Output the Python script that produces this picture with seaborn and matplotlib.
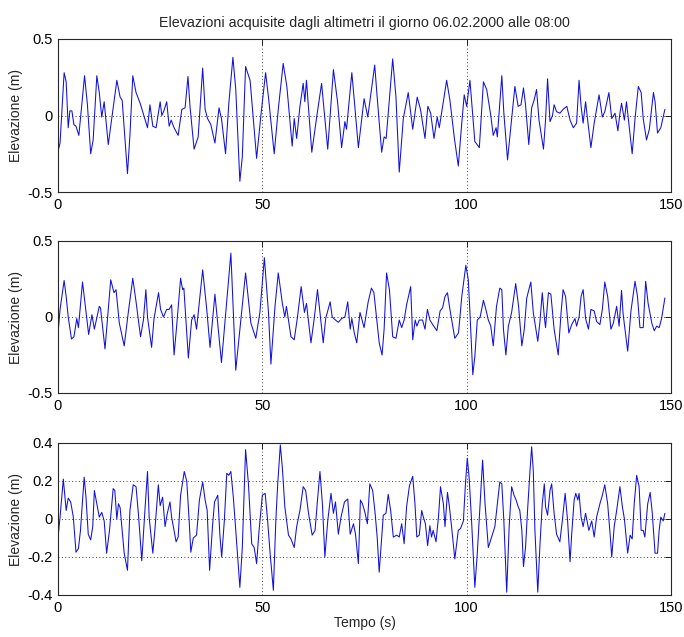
import matplotlib
matplotlib.use("Agg")
import matplotlib.pyplot as plt
import seaborn as sns
import pandas as pd

# ---------------- data (time [s], elevation [m]) ----------------
serie_1 = [
    (0.0, -0.235), (0.5, -0.18), (1.5, 0.28), (2.0, 0.22), (2.5, -0.08), (2.9, 0.03), (3.4, 0.03),
    (3.9, -0.06), (4.4, -0.07), (5.1, -0.13), (6.5, 0.26), (7.2, 0.07), (8.0, -0.25), (8.6, -0.16),
    (9.5, 0.26), (10.1, 0.15), (10.7, -0.01), (11.3, 0.09), (12.3, -0.19), (13.1, -0.03), (14.4, 0.23),
    (15.2, 0.12), (15.7, 0.10), (17.0, -0.38), (17.6, -0.13), (18.3, 0.26), (19.1, 0.15), (20.1, 0.08),
    (21.9, -0.08), (22.5, 0.07), (23.2, -0.07), (24.0, -0.08), (25.0, 0.09), (25.4, 0.0), (25.9, 0.03),
    (26.6, 0.09), (27.2, -0.07), (27.7, -0.03), (28.4, -0.08), (29.4, -0.13), (30.3, 0.04), (31.1, 0.05),
    (31.8, 0.255), (32.3, 0.06), (33.3, -0.22), (34.3, -0.14), (35.4, 0.31),
    (36.0, 0.04), (36.6, -0.02), (37.4, -0.06), (38.4, -0.18), (39.4, 0.05), (40.0, -0.02), (41.0, -0.25),
    (41.8, 0.08), (42.8, 0.38), (43.5, 0.17), (44.5, -0.43), (45.1, -0.27), (45.9, 0.32), (47.0, 0.23),
    (48.6, -0.28), (49.7, 0.015), (50.8, 0.28), (51.5, 0.12), (52.9, -0.25), (53.9, 0.04), (55.1, 0.34),
    (56.0, 0.19), (57.3, -0.20), (57.8, -0.02), (58.4, -0.15), (59.2, 0.06), (60.0, 0.21), (60.4, 0.09),
    (60.8, 0.23), (62.1, -0.24), (63.3, -0.01), (64.5, 0.21), (66.0, -0.22), (67.4, 0.30), (68.4, 0.09),
    (69.4, -0.21), (70.2, -0.04), (70.6, -0.09), (71.9, 0.28), (72.5, 0.10), (73.5, -0.21),
    (74.9, 0.11), (75.8, -0.01), (77.5, 0.33), (78.1, 0.12), (79.2, -0.24), (79.8, -0.14), (80.3, -0.15),
    (81.9, 0.37), (82.7, 0.12), (83.5, -0.37), (84.5, -0.02), (85.7, 0.15), (86.8, -0.09), (87.9, 0.12),
    (88.7, 0.04), (89.8, -0.15), (90.5, 0.06), (91.2, 0.015), (92.0, -0.15), (92.8, -0.01), (93.3, -0.08),
    (95.1, 0.23), (95.9, 0.10), (97.0, -0.15), (97.95, -0.33), (98.8, -0.05), (99.4, 0.135), (100.0, 0.06),
    (100.8, 0.23), (102.0, -0.17), (103.1, -0.21), (104.1, 0.22), (104.9, 0.17), (105.9, 0.0),
    (106.5, -0.13), (107.2, -0.08), (107.5, -0.14), (108.6, 0.26), (109.1, 0.015), (110.0, -0.29),
    (111.8, 0.19), (112.6, 0.06), (113.3, 0.07), (113.9, 0.18), (114.4, 0.07), (115.2, -0.19),
    (115.9, 0.05), (116.5, 0.10), (117.1, 0.17), (117.7, -0.03), (118.8, -0.22), (119.3, -0.03),
    (119.8, 0.24), (120.4, -0.04), (121.0, 0.0), (121.4, 0.07), (122.0, 0.025), (122.8, 0.015),
    (123.6, 0.04), (124.5, 0.06), (125.3, -0.03), (126.1, -0.08), (126.9, -0.05), (127.5, 0.23),
    (128.0, 0.06), (128.5, -0.05), (129.1, 0.09), (129.6, -0.03), (130.4, -0.21), (131.2, -0.05),
    (132.4, 0.135), (133.2, -0.01), (133.8, 0.025), (134.8, 0.15), (135.5, -0.02), (136.3, 0.015),
    (137.0, -0.10), (137.5, 0.015), (137.9, 0.08), (138.6, -0.03), (139.1, 0.09), (140.5, -0.25),
    (141.2, -0.02), (142.0, 0.19), (142.7, 0.15), (143.2, -0.02), (144.0, -0.16), (144.7, -0.09),
    (145.7, 0.15), (146.1, 0.09), (146.7, -0.115), (147.5, -0.08), (148.5, 0.04),
]

serie_2 = [
    (0.0, -0.115), (0.5, 0.05), (1.5, 0.24), (2.0, 0.135), (2.5, 0.0), (3.3, -0.145), (3.9, -0.13),
    (4.6, -0.01), (5.0, -0.07), (6.0, 0.23), (6.7, 0.07), (7.5, -0.115), (8.3, 0.015), (8.9, -0.08),
    (10.1, 0.07), (10.4, 0.06), (11.5, -0.21), (12.9, 0.245), (13.7, 0.16), (14.2, 0.18), (15.0, -0.04),
    (16.2, -0.19), (17.2, 0.03), (18.3, 0.255), (19.1, 0.10), (20.2, -0.13), (20.9, -0.02), (21.5, 0.18),
    (21.9, 0.0), (22.9, -0.20), (23.5, -0.01), (24.6, 0.16), (25.1, 0.05), (25.8, 0.0), (26.6, 0.05),
    (27.2, 0.05), (27.8, 0.08), (28.4, -0.25), (29.0, -0.07), (30.0, 0.255), (30.5, 0.18), (30.8, 0.19),
    (31.9, -0.27), (32.7, -0.02), (33.3, 0.015), (33.9, -0.08), (35.4, 0.31), (36.4, 0.05),
    (37.2, -0.20), (38.4, 0.15), (40.0, -0.30), (42.3, 0.42), (43.5, -0.35), (45.9, 0.29), (47.2, -0.04),
    (48.4, -0.14), (49.4, 0.03), (50.5, 0.39), (51.5, 0.03), (52.1, -0.31), (53.1, 0.07), (53.9, 0.29),
    (54.9, 0.09), (55.5, 0.0), (55.9, 0.07), (57.0, -0.13), (57.8, -0.15), (58.6, 0.0), (59.5, 0.20),
    (60.3, 0.03), (60.8, 0.09), (61.9, -0.17), (62.7, -0.01), (63.5, 0.18), (64.1, 0.03), (64.9, -0.17),
    (65.5, -0.01), (66.6, 0.10), (67.1, 0.0), (67.9, -0.02), (68.6, -0.035), (69.4, -0.01), (70.2, 0.0),
    (70.9, 0.10), (71.5, -0.08), (71.9, -0.01), (72.5, -0.105), (73.1, -0.17), (73.9, 0.03),
    (74.9, -0.07), (75.9, 0.10), (76.7, 0.19), (77.3, 0.16), (78.6, -0.17), (79.3, -0.25), (79.8, -0.08),
    (80.4, 0.29), (81.1, 0.18), (81.9, -0.13), (82.7, -0.14), (83.5, -0.02), (84.1, -0.07), (84.7, -0.02),
    (85.3, 0.08), (86.3, 0.20), (86.8, -0.15), (87.4, -0.02), (87.8, -0.06), (88.4, -0.02), (89.2, -0.02),
    (89.8, -0.08), (90.4, 0.05), (91.0, -0.02), (91.7, -0.05), (92.7, -0.09), (93.5, 0.04), (94.1, 0.06),
    (94.7, 0.135), (95.3, 0.16), (95.9, 0.05), (97.1, -0.14), (98.0, -0.105), (98.8, 0.135), (99.8, 0.34),
    (100.4, 0.245), (100.8, 0.03), (101.5, -0.38), (102.0, -0.26), (102.6, -0.02), (103.3, 0.0),
    (104.1, 0.11), (104.7, 0.05), (105.3, -0.02), (105.9, -0.06), (106.5, -0.19), (107.3, 0.07),
    (108.1, 0.19), (108.6, 0.18), (109.0, -0.08), (109.6, -0.25), (110.2, -0.06), (111.0, 0.03),
    (112.0, 0.22), (112.7, 0.07),
    (113.5, -0.19), (114.1, -0.08), (114.7, 0.125), (115.7, 0.23), (116.3, 0.03), (117.4, -0.16),
    (117.9, -0.04), (118.5, 0.16), (119.0, 0.0), (119.3, -0.07), (120.0, 0.16), (120.6, 0.15),
    (121.4, -0.08), (122.4, -0.25), (123.1, 0.03), (123.6, 0.18), (124.2, 0.135), (125.0, -0.105),
    (125.7, -0.05), (126.5, -0.01), (126.9, -0.06), (127.5, 0.0), (128.0, 0.135), (128.5, 0.18),
    (129.1, -0.01), (129.8, -0.08), (130.4, 0.05), (131.2, 0.04), (131.8, -0.03), (132.6, -0.05),
    (133.2, 0.05), (133.8, 0.23), (134.5, 0.135), (135.3, -0.08), (135.9, -0.04), (136.7, 0.07),
    (137.3, -0.06), (137.9, 0.175), (138.3, 0.015), (139.4, -0.225), (140.2, 0.04), (141.2, 0.235),
    (141.8, 0.135), (142.4, -0.07), (143.2, -0.07), (143.8, 0.235), (144.4, 0.09), (145.3, -0.04),
    (145.9, -0.09), (146.5, -0.06), (147.1, -0.07), (147.7, -0.01), (148.5, 0.125),
]

serie_3 = [
    (0.0, -0.10), (0.5, 0.01), (1.3, 0.21), (2.0, 0.045), (2.5, 0.11), (3.1, 0.09), (3.75, 0.01),
    (4.4, -0.175), (5.0, -0.155), (5.5, -0.06), (6.4, 0.22), (6.85, 0.115), (7.4, -0.08), (8.0, -0.11),
    (8.5, -0.04), (8.9, 0.15), (9.5, 0.08), (10.1, 0.01), (10.7, 0.035), (11.3, -0.01), (11.9, -0.18),
    (12.6, -0.06), (13.5, 0.16), (13.9, 0.15), (14.4, 0.0), (14.8, 0.08), (15.2, 0.06), (16.2, -0.18),
    (17.0, -0.27), (17.6, 0.045), (18.4, 0.18), (19.1, 0.17), (19.7, 0.02), (20.5, -0.22), (21.3, 0.055),
    (21.9, 0.25), (22.3, 0.01), (23.2, -0.18), (23.7, -0.06), (24.55, 0.18), (25.0, 0.07), (25.6, 0.115),
    (26.2, -0.04), (26.75, 0.03), (27.4, 0.09), (27.8, 0.01), (28.9, -0.12), (29.4, -0.095), (30.0, 0.125),
    (30.9, 0.25), (31.5, 0.20), (32.1, -0.01), (32.5, -0.175), (33.1, -0.10), (33.9, -0.085), (34.6, 0.10),
    (35.4, 0.195), (36.0, 0.10), (36.5, 0.045), (37.1, -0.27),
    (37.8, -0.04), (38.3, 0.09), (39.1, 0.125), (39.6, -0.08), (40.05, -0.20), (40.7, -0.01), (41.3, 0.24),
    (41.8, 0.23), (42.3, 0.25), (42.9, 0.115), (43.5, -0.06), (44.5, -0.36), (45.1, -0.15), (45.9, 0.365),
    (46.6, 0.185), (47.4, -0.13), (48.0, -0.15), (48.6, -0.235), (49.2, -0.06), (50.0, 0.125),
    (50.7, 0.135), (51.3, -0.01), (51.9, -0.18), (52.7, -0.375), (53.3, -0.01), (53.75, 0.18), (54.4, 0.39),
    (54.9, 0.27), (55.5, 0.065), (56.4, -0.085), (57.0, -0.105), (57.8, -0.15), (58.4, -0.04),
    (59.2, 0.045), (60.0, 0.17), (60.6, 0.15), (61.3, 0.03), (62.2, -0.085), (62.9, -0.06), (63.5, 0.10),
    (64.1, 0.25), (64.7, 0.08), (65.3, -0.20), (66.0, -0.01), (66.8, 0.135), (67.4, 0.03), (67.9, 0.09),
    (68.6, -0.08), (69.25, 0.01), (70.1, 0.09), (70.9, 0.105), (71.5, -0.08), (72.3, -0.025),
    (72.8, -0.08), (73.5, -0.235),
    (74.0, 0.10), (74.5, 0.08), (75.1, 0.035), (75.7, -0.025), (76.3, 0.185), (77.0, 0.15), (77.6, 0.03),
    (78.1, -0.095), (78.6, -0.28), (79.2, -0.095), (79.6, 0.02), (80.25, 0.03), (80.8, 0.13), (81.4, 0.045),
    (82.05, -0.095), (82.9, -0.085), (83.5, -0.095), (84.1, -0.025), (84.7, -0.13), (85.3, 0.065),
    (86.0, 0.175), (86.8, 0.225), (87.35, 0.08), (87.8, -0.095), (88.4, -0.085), (89.0, 0.045),
    (89.4, 0.01), (89.9, -0.025), (90.45, -0.14), (91.0, -0.035), (91.4, -0.095), (91.8, -0.06),
    (92.5, -0.12), (93.1, 0.01), (93.6, 0.17), (94.3, 0.08), (94.7, -0.04), (95.3, 0.14), (95.75, 0.07),
    (96.3, -0.04), (97.1, -0.21), (97.95, -0.06), (98.5, -0.05), (99.2, -0.01), (99.7, 0.185),
    (100.15, 0.32), (100.6, 0.22), (101.2, -0.01), (102.0, -0.36), (102.6, -0.18), (103.3, 0.08),
    (103.9, 0.31), (104.5, 0.08), (105.3, -0.15), (106.1, -0.095), (106.9, -0.04), (107.5, 0.08),
    (108.1, 0.195), (108.6, 0.185), (109.1, -0.01), (109.8, -0.385), (110.4, -0.04), (111.0, 0.17),
    (111.6, 0.125), (112.1, 0.10), (112.6, 0.065),
    (113.0, 0.045), (113.5, -0.06), (113.9, -0.25), (114.4, -0.15), (114.9, 0.045), (115.5, 0.255),
    (115.9, 0.38), (116.3, 0.255), (116.7, -0.06), (117.4, -0.385), (117.9, -0.15), (118.5, 0.08),
    (119.0, 0.185), (119.3, 0.065), (119.8, 0.02), (120.4, 0.15), (120.8, 0.185), (121.4, 0.03),
    (122.0, -0.08), (122.8, -0.12), (123.4, -0.01), (124.1, 0.135), (124.7, -0.01), (125.3, -0.225),
    (125.7, -0.08), (126.3, 0.10), (126.7, 0.135), (127.2, 0.10), (127.5, 0.135), (128.0, 0.01),
    (128.5, -0.04), (129.1, 0.03), (129.6, -0.025), (129.9, -0.06), (130.6, -0.01), (131.2, -0.095),
    (131.8, 0.01), (132.6, 0.08), (133.2, 0.125), (133.8, 0.18), (134.5, 0.08), (135.1, -0.08),
    (135.5, -0.20), (136.1, -0.04), (136.7, 0.045), (137.5, 0.17), (138.1, 0.065), (138.6, 0.0),
    (139.4, -0.18), (140.0, -0.085), (140.5, -0.105), (141.0, 0.08), (141.6, 0.23), (142.2, 0.17),
    (142.7, -0.06), (143.2, -0.06), (143.6, -0.095), (144.3, 0.08), (144.9, 0.14), (145.4, 0.035),
    (146.1, -0.18), (146.7, -0.18), (147.1, -0.06), (147.5, 0.01), (148.1, -0.01), (148.5, 0.03),
]

x_ticks = [0, 50, 100, 150]
x_tick_labels = ["0", "50", "100", "150"]
y_ticks_12 = [-0.5, 0, 0.5]
y_tick_labels_12 = ["-0.5", "0", "0.5"]
y_ticks_3 = [-0.4, -0.2, 0, 0.2, 0.4]
y_tick_labels_3 = ["-0.4", "-0.2", "0", "0.2", "0.4"]

title = "Elevazioni acquisite dagli altimetri il giorno 06.02.2000 alle 08:00"
y_label = "Elevazione (m)"
x_label = "Tempo (s)"

# ---------------- figure ----------------
sns.set_style("white")
plt.rcParams['font.family'] = ['Liberation Sans', 'DejaVu Sans']

W, H = 684, 637
fig = plt.figure(figsize=(W / 100, H / 100), dpi=100)
fig.patch.set_facecolor("white")

boxes = [(58, 39, 671, 192), (58, 241, 671, 393), (58, 443, 671, 595)]
series = [serie_1, serie_2, serie_3]
yconf = [(y_ticks_12, y_tick_labels_12, (-0.5, 0.5)),
         (y_ticks_12, y_tick_labels_12, (-0.5, 0.5)),
         (y_ticks_3, y_tick_labels_3, (-0.4, 0.4))]

for i, (box, s, (yt, ytl, ylim)) in enumerate(zip(boxes, series, yconf)):
    l, t, r, b = box
    ax = fig.add_axes([l / W, 1 - b / H, (r - l) / W, (b - t) / H])
    df = pd.DataFrame(s, columns=["tempo", "elev"])
    sns.lineplot(data=df, x="tempo", y="elev", ax=ax, color="#1010d8",
                 linewidth=0.75, estimator=None, sort=False)
    ax.set_xlim(0, 150)
    ax.set_ylim(*ylim)
    ax.set_xticks(x_ticks)
    ax.set_xticklabels(x_tick_labels)
    ax.set_yticks(yt)
    ax.set_yticklabels(ytl)
    ax.grid(True, linestyle=(0, (1, 2.5)), color="0.25", linewidth=0.7)
    ax.set_axisbelow(True)
    ax.tick_params(direction="in", top=True, right=True, length=4, width=0.6,
                   labelsize=10.5, colors="black", pad=4)
    for sp in ax.spines.values():
        sp.set_visible(True)
        sp.set_color("0.15")
        sp.set_linewidth(0.8)
    ax.set_ylabel(y_label, fontsize=10, labelpad=3)
    if i == 0:
        ax.set_title(title, fontsize=10.3, pad=9)
    if i == 2:
        ax.set_xlabel(x_label, fontsize=10, labelpad=1)
    else:
        ax.set_xlabel("")

fig.savefig("out.png", dpi=100, facecolor="white")
